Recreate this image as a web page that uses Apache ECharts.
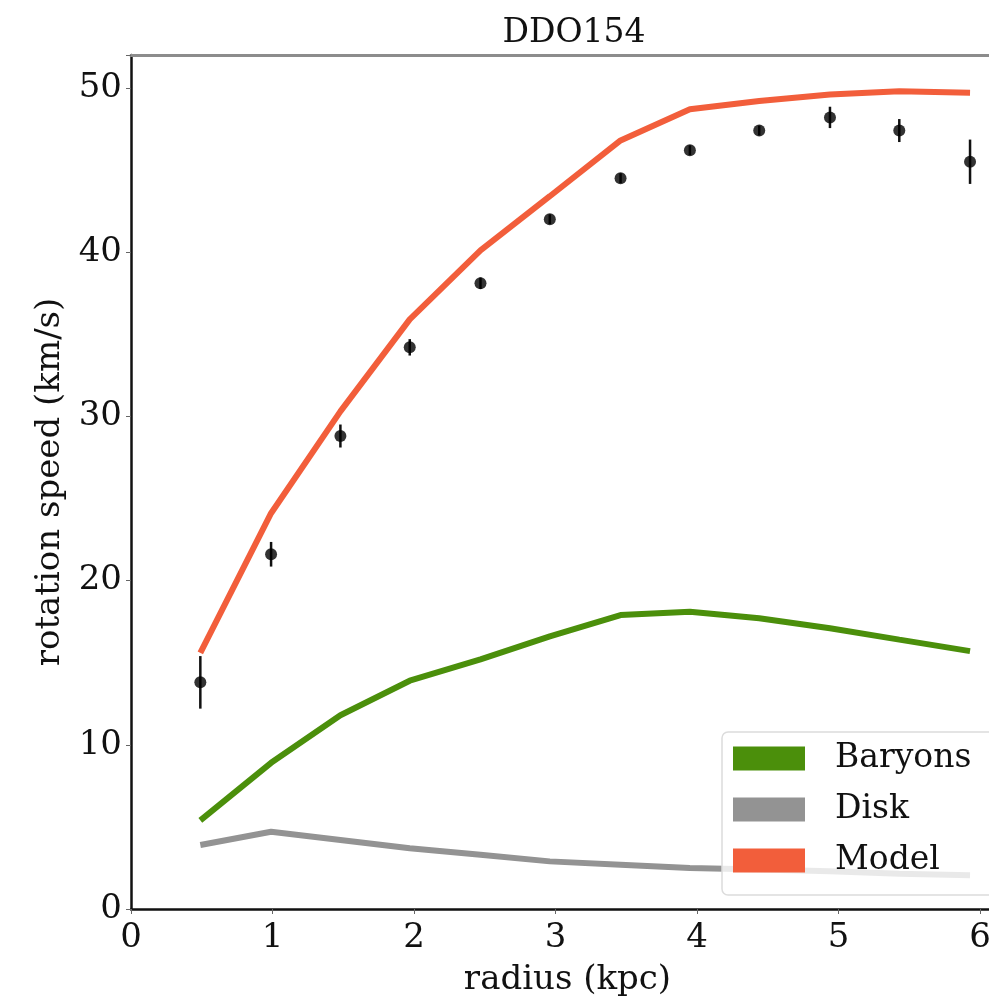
<!DOCTYPE html>
<html>
<head>
<meta charset="utf-8">
<script src="https://cdn.jsdelivr.net/npm/echarts@6/dist/echarts.min.js"></script>
<style>html,body{margin:0;padding:0;background:#fff;}#c{width:989px;height:1001px;}</style>
</head>
<body>
<div id="c"></div>
<script>
const radius = [0.49, 0.99, 1.48, 1.97, 2.47, 2.96, 3.46, 3.95, 4.44, 4.94, 5.43, 5.93];
const vObs = [13.8, 21.6, 28.8, 34.2, 38.1, 42.0, 44.5, 46.2, 47.4, 48.2, 47.4, 45.5];
const vErr = [1.6, 0.75, 0.7, 0.5, 0.35, 0.3, 0.3, 0.3, 0.3, 0.65, 0.7, 1.35];
const vBaryons = [5.4, 8.9, 11.8, 13.9, 15.2, 16.6, 17.9, 18.1, 17.7, 17.1, 16.4, 15.7];
const vDisk = [3.9, 4.7, 4.2, 3.7, 3.3, 2.9, 2.7, 2.5, 2.4, 2.3, 2.15, 2.05];
const vModel = [15.6, 24.1, 30.3, 35.9, 40.1, 43.4, 46.8, 48.7, 49.2, 49.6, 49.8, 49.7];
const xTicks = [0, 1, 2, 3, 4, 5, 6];
const yTicks = [0, 10, 20, 30, 40, 50];

const FONT = 'DejaVu Serif';
const FS = 34;
const pair = (ys) => radius.map((x, i) => [x, ys[i]]);

const chart = echarts.init(document.getElementById('c'), null, {renderer: 'canvas'});
chart.setOption({
  animation: false,
  backgroundColor: '#fff',
  title: {
    text: 'DDO154', left: 569, top: 12, textAlign: 'center',
    textStyle: {fontFamily: FONT, fontSize: 33, fontWeight: 'normal', color: '#111'}
  },
  grid: {left: 131, top: 55, width: 873, height: 854, containLabel: false, outerBoundsMode: 'none'},
  legend: {
    orient: 'vertical', left: 722, top: 732,
    padding: [10, 40, 18, 11],
    itemWidth: 72, itemHeight: 24, itemGap: 18,
    icon: 'rect',
    backgroundColor: 'rgba(255,255,255,0.8)',
    borderColor: '#dcdcdc', borderWidth: 1.5, borderRadius: 6,
    data: ['Baryons', 'Disk', 'Model'],
    textStyle: {fontFamily: FONT, fontSize: 33, color: '#111', padding: [0, 0, 0, 25]}
  },
  xAxis: [{
    type: 'value', min: 0, max: 6.17, interval: 1,
    name: 'radius (kpc)', nameLocation: 'middle', nameGap: 54,
    nameTextStyle: {fontFamily: FONT, fontSize: FS, color: '#111'},
    axisLine: {show: true, onZero: false, lineStyle: {color: '#111', width: 2.5}},
    axisTick: {show: true, length: 5, lineStyle: {color: '#666', width: 1}},
    axisLabel: {fontFamily: FONT, fontSize: FS, color: '#111', margin: 12,
      formatter: v => xTicks.includes(v) ? String(v) : ''},
    splitLine: {show: false}
  }, {
    type: 'value', position: 'top', min: 0, max: 6.17,
    axisLine: {show: true, onZero: false, lineStyle: {color: '#8c8c8c', width: 3}},
    axisTick: {show: false}, axisLabel: {show: false}, splitLine: {show: false}
  }],
  yAxis: {
    type: 'value', min: 0, max: 52, interval: 10,
    name: 'rotation speed (km/s)', nameLocation: 'middle', nameGap: 64,
    nameTextStyle: {fontFamily: FONT, fontSize: FS, color: '#111'},
    axisLine: {show: true, onZero: false, lineStyle: {color: '#111', width: 2.5}},
    axisTick: {show: true, length: 5, lineStyle: {color: '#666', width: 1}},
    axisLabel: {fontFamily: FONT, fontSize: FS, color: '#111', margin: 9,
      formatter: v => yTicks.includes(v) ? String(v) : ''},
    splitLine: {show: false}
  },
  series: [
    {
      name: 'Baryons', type: 'line', data: pair(vBaryons), showSymbol: false, symbol: 'none',
      lineStyle: {color: '#4b8f0b', width: 6}, itemStyle: {color: '#4b8f0b'}, z: 2
    },
    {
      name: 'Disk', type: 'line', data: pair(vDisk), showSymbol: false, symbol: 'none',
      lineStyle: {color: '#939393', width: 6}, itemStyle: {color: '#939393'}, z: 2
    },
    {
      name: 'Model', type: 'line', data: pair(vModel), showSymbol: false, symbol: 'none',
      lineStyle: {color: '#f25e3b', width: 6}, itemStyle: {color: '#f25e3b'}, z: 2
    },
    {
      name: 'err', type: 'custom', z: 3,
      data: radius.map((x, i) => [x, vObs[i], vErr[i]]),
      renderItem: function (params, api) {
        const x = api.value(0), y = api.value(1), e = api.value(2);
        const p1 = api.coord([x, y + e]);
        const p2 = api.coord([x, y - e]);
        return {type: 'line', shape: {x1: p1[0], y1: p1[1], x2: p2[0], y2: p2[1]},
          style: {stroke: '#111', lineWidth: 2.5}};
      }
    },
    {
      name: 'obs', type: 'scatter', data: pair(vObs), symbol: 'circle', symbolSize: 12,
      itemStyle: {color: '#000'}, z: 4
    }
  ]
});
</script>
</body>
</html>
